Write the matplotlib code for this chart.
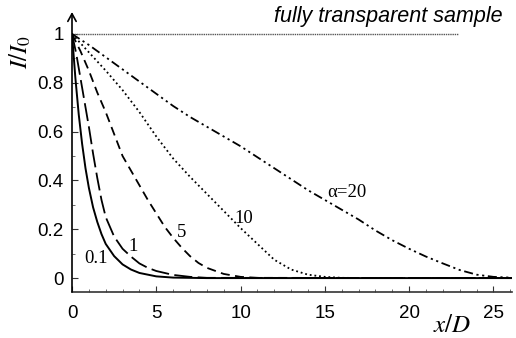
import matplotlib
matplotlib.use("Agg")
import matplotlib.pyplot as plt
from matplotlib.ticker import MultipleLocator

plt.rcParams["mathtext.fontset"] = "stix"
SANS = "Liberation Sans"
SERIF = "Liberation Serif"

# transmitted intensity I/I0 versus depth x/D for each alpha
x_a01 = [0, 0.2, 0.4, 0.6, 0.8, 1.0, 1.25, 1.5, 1.75, 2.0, 2.5, 3.0, 3.5, 4.0, 5.0, 6.0, 8.0, 26.2]
y_a01 = [1, 0.82, 0.67, 0.55, 0.45, 0.37, 0.29, 0.23, 0.18, 0.14, 0.09, 0.056, 0.035, 0.021, 0.007, 0.002, 0, 0]

x_a1 = [0, 0.25, 0.5, 0.75, 1.0, 1.25, 1.5, 1.75, 2.0, 2.5, 3.0, 3.5, 4.0, 4.5, 5, 6, 7, 8, 26.2]
y_a1 = [1, 0.92, 0.82, 0.72, 0.62, 0.51, 0.41, 0.32, 0.25, 0.17, 0.12, 0.088, 0.06, 0.042, 0.029, 0.013, 0.005, 0.001, 0]

x_a5 = [0, 0.5, 1, 1.5, 2, 2.5, 3, 3.5, 4, 4.5, 5, 5.5, 6, 6.5, 7, 7.5, 8, 9, 10, 11, 26.2]
y_a5 = [1, 0.93, 0.85, 0.76, 0.68, 0.59, 0.5, 0.44, 0.38, 0.32, 0.265, 0.21, 0.165, 0.125, 0.09,
        0.062, 0.042, 0.017, 0.005, 0.001, 0]

x_a10 = [0, 1, 2, 3, 4, 5, 6, 7, 8, 9, 10, 11, 12, 13, 14, 15, 16, 18, 26.2]
y_a10 = [1, 0.925, 0.85, 0.77, 0.68, 0.58, 0.49, 0.415, 0.345, 0.275, 0.205, 0.14, 0.075, 0.035,
         0.014, 0.005, 0.001, 0, 0]

x_a20 = [0, 1, 2, 3, 4, 5, 6, 7, 8, 9, 10, 11, 12, 13, 14, 15, 16, 17, 18, 19, 20, 21, 22, 23,
         24, 25, 26, 26.2]
y_a20 = [1, 0.955, 0.905, 0.855, 0.805, 0.755, 0.705, 0.66, 0.62, 0.58, 0.54, 0.495, 0.45, 0.405,
         0.36, 0.32, 0.28, 0.24, 0.195, 0.155, 0.12, 0.088, 0.06, 0.033, 0.014, 0.005, 0.002, 0.001]

transparent_x = [0, 22.9]
transparent_y = [1, 1]

curve_labels = ["0.1", "1", "5", "10", "\u03b1=20"]
label_pos = [(1.42, 0.08), (3.6, 0.13), (6.5, 0.185), (10.2, 0.245), (16.3, 0.35)]

xticks = [0, 5, 10, 15, 20, 25]
yticks = [0, 0.2, 0.4, 0.6, 0.8, 1]
ytick_labels = ["0", "0.2", "0.4", "0.6", "0.8", "1"]

fig = plt.figure(figsize=(5.16, 3.38), dpi=100)
ax = fig.add_axes([72 / 516, 46 / 338, 440 / 516, 280 / 338])
ax.set_xlim(0, 26.1)
ax.set_ylim(-0.057, 1.09)

ax.plot(transparent_x, transparent_y, color="#555555", lw=1.0, ls=(0, (1, 0.6)))
ax.plot(x_a01, y_a01, color="black", lw=1.4, ls="-")
ax.plot(x_a1, y_a1, color="black", lw=1.3, ls=(0, (10, 3)))
ax.plot(x_a5, y_a5, color="black", lw=1.3, ls=(0, (5, 3)))
ax.plot(x_a10, y_a10, color="black", lw=1.3, ls=(0, (1, 1.6)))
ax.plot(x_a20, y_a20, color="black", lw=1.3, ls=(0, (5, 2, 1.2, 2, 1.2, 2)))

for text, (tx, ty) in zip(curve_labels, label_pos):
    ax.text(tx, ty, text, family=SERIF, fontsize=13.5, ha="center", va="center")

fig.text(503 / 516, 1 - 27 / 338, "fully transparent sample", family=SANS, style="italic",
         fontsize=15.5, ha="right", va="bottom")

# axes: bottom spine plain, left axis drawn as an arrow
for side in ("top", "right", "left"):
    ax.spines[side].set_visible(False)
ax.spines["bottom"].set_color("#333333")
ax.spines["bottom"].set_linewidth(1.2)
ax.annotate("", xy=(0, 1.09), xytext=(0, -0.057), xycoords="data",
            arrowprops=dict(arrowstyle="->,head_length=0.55,head_width=0.3",
                            color="black", lw=1.2, shrinkA=0, shrinkB=0),
            annotation_clip=False)

ax.set_xticks(xticks)
ax.set_yticks(yticks)
ax.set_yticklabels(ytick_labels)
ax.xaxis.set_minor_locator(MultipleLocator(1))
ax.yaxis.set_minor_locator(MultipleLocator(0.1))
ax.tick_params(which="major", direction="in", length=4, width=0.8, color="#333333",
               labelsize=13.5, pad=6)
ax.tick_params(which="minor", direction="in", length=2, width=0.6, color="#555555")
ax.tick_params(axis="x", which="major", pad=9)
for lab in ax.get_xticklabels() + ax.get_yticklabels():
    lab.set_family(SANS)

fig.text(20 / 516, 1 - 52 / 338, r"$I/I_0$", rotation=90, fontsize=18,
         ha="center", va="center")
fig.text(452 / 516, 1 - 325 / 338, r"$x/D$", fontsize=18, ha="center", va="center")

fig.savefig("out.png", dpi=100)
